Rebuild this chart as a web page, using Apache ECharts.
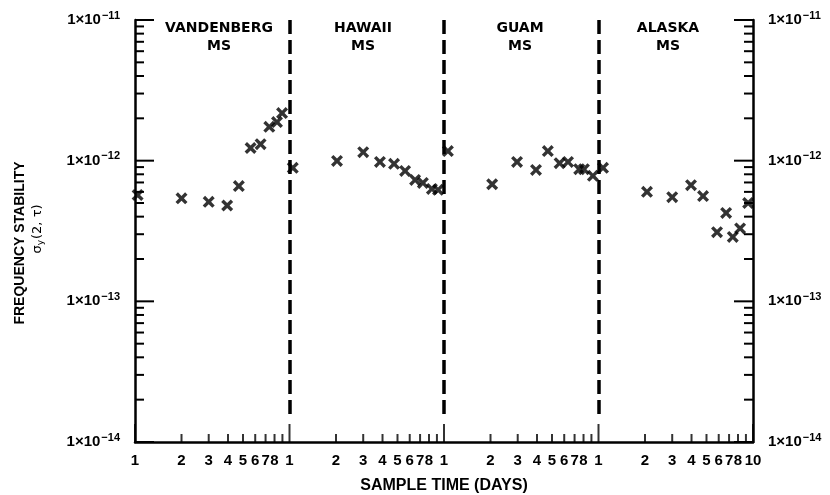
<!DOCTYPE html>
<html><head><meta charset="utf-8">
<script src="https://cdn.jsdelivr.net/npm/echarts@6/dist/echarts.min.js"></script>
<style>html,body{margin:0;padding:0;background:#fff}#c{width:830px;height:495px}</style>
</head><body><div id="c"></div>
<script>
// ---- data (sample time in days within each station's decade, sigma_y(2,tau)) ----
const stations = ['VANDENBERG', 'HAWAII', 'GUAM', 'ALASKA'];
const stationSub = 'MS';

const vandenbergDays  = [1.04, 2.0, 3.0, 3.95, 4.7, 5.6, 6.5, 7.4, 8.3, 8.95];
const vandenbergSigma = [5.7e-13, 5.4e-13, 5.1e-13, 4.8e-13, 6.6e-13, 1.23e-12, 1.31e-12, 1.74e-12, 1.88e-12, 2.18e-12];

const hawaiiDays  = [1.05, 2.03, 3.0, 3.85, 4.75, 5.6, 6.5, 7.3, 8.35, 9.15];
const hawaiiSigma = [8.9e-13, 9.95e-13, 1.15e-12, 9.8e-13, 9.5e-13, 8.45e-13, 7.3e-13, 6.95e-13, 6.3e-13, 6.2e-13];

const guamDays  = [1.06, 2.05, 2.97, 3.94, 4.7, 5.6, 6.35, 7.5, 8.05, 9.2];
const guamSigma = [1.17e-12, 6.8e-13, 9.8e-13, 8.6e-13, 1.17e-12, 9.6e-13, 9.8e-13, 8.7e-13, 8.7e-13, 7.8e-13];

const alaskaDays  = [1.07, 2.06, 3.0, 3.97, 4.75, 5.85, 6.7, 7.4, 8.25, 9.3];
const alaskaSigma = [8.9e-13, 6.0e-13, 5.5e-13, 6.7e-13, 5.6e-13, 3.1e-13, 4.25e-13, 2.87e-13, 3.3e-13, 5.0e-13];

const xLabelDigits = [1, 2, 3, 4, 5, 6, 7, 8];
const xMinorDigits = [2, 3, 4, 5, 6, 7, 8, 9];
const xLastLabel = '10';
const yExponents = [-14, -13, -12, -11];

const allDays = [vandenbergDays, hawaiiDays, guamDays, alaskaDays];
const allSigma = [vandenbergSigma, hawaiiSigma, guamSigma, alaskaSigma];

// ---- build ----
const nSeg = stations.length;
const lg = Math.log10;
const xMajor = [], xMinor = [], xLabels = [];
for (let s = 0; s <= nSeg; s++) xMajor.push(s);
for (let s = 0; s < nSeg; s++) {
  xMinorDigits.forEach(d => xMinor.push(s + lg(d)));
  xLabelDigits.forEach(d => xLabels.push(s + lg(d)));
}
xLabels.push(nSeg);
const yMin = yExponents[0], yMax = yExponents[yExponents.length - 1];
const yMinor = [];
for (let e = yMin; e < yMax; e++) xMinorDigits.forEach(d => yMinor.push(e + lg(d)));

const xFmt = v => {
  if (Math.abs(v - nSeg) < 1e-6) return xLastLabel;
  const s = Math.floor(v + 1e-9);
  return String(Math.round(Math.pow(10, v - s)));
};
const yFmt = v => '{a|1×10}{s|−' + Math.abs(Math.round(v)) + '}';
const yRich = {
  a: {fontSize: 15, fontWeight: 'bold', color: '#000', fontFamily: 'Liberation Sans'},
  s: {fontSize: 11, fontWeight: 'bold', color: '#000', fontFamily: 'Liberation Sans', padding: [0, 0, 9, 1]}
};
const BLACK = '#000';
const xSym = 'path://M0,2.4 L2.4,0 L6,3.6 L9.6,0 L12,2.4 L8.4,6 L12,9.6 L9.6,12 L6,8.4 L2.4,12 L0,9.6 L3.6,6 Z';

const series = stations.map((name, s) => ({
  type: 'scatter',
  name: name,
  symbol: xSym,
  symbolSize: 12,
  itemStyle: {color: BLACK},
  data: allDays[s].map((d, i) => [s + lg(d), lg(allSigma[s][i])]),
  z: 5
}));
series[0].markLine = {
  silent: true,
  symbol: 'none',
  label: {show: false},
  lineStyle: {color: BLACK, width: 3.5, type: [14, 6], cap: 'butt'},
  emphasis: {disabled: true},
  data: xMajor.slice(1, nSeg).map(b => [{coord: [b, yMax]}, {coord: [b, -13.82]}])
};

// x-axis tick marks as rect symbols placed through the axes
const xTickSeries = (data, len) => ({
  type: 'scatter', silent: true, clip: false, z: 4,
  symbol: 'rect', symbolSize: [2, len], symbolOffset: [0, -len / 2],
  itemStyle: {color: BLACK}, emphasis: {disabled: true},
  data: data.map(v => [v, yMin])
});
series.push(xTickSeries(xMinor, 8));
series.push(xTickSeries(xMajor, 18));

// y-axis tick marks
const tickSeries = (data, dx, dy) => ({
  type: 'custom', silent: true, clip: false, z: 4,
  data: data,
  renderItem: (params, api) => {
    const p = api.coord([api.value(0), api.value(1)]);
    return {type: 'line', shape: {x1: p[0], y1: p[1], x2: p[0] + dx, y2: p[1] + dy},
            style: {stroke: BLACK, lineWidth: 2}};
  }
});
series.push(tickSeries(yMinor.map(v => [0, v]), 9, 0));
series.push(tickSeries(yExponents.map(v => [0, v]), 19, 0));
series.push(tickSeries(yMinor.map(v => [nSeg, v]), -9, 0));
series.push(tickSeries(yExponents.map(v => [nSeg, v]), -19, 0));

const xAxisOpt = {
  type: 'value', min: 0, max: nSeg, position: 'bottom',
  axisLine: {show: true, onZero: false, lineStyle: {color: BLACK, width: 2.5}},
  axisTick: {show: false},
  axisLabel: {
    show: true, customValues: xLabels, formatter: xFmt, margin: 11,
    color: BLACK, fontSize: 15, fontWeight: 'bold', fontFamily: 'Liberation Sans', hideOverlap: false
  },
  splitLine: {show: false}
};
const makeY = (pos) => ({
  type: 'value', min: yMin, max: yMax, position: pos,
  axisLine: {show: true, onZero: false, lineStyle: {color: BLACK, width: 2.5}},
  axisTick: {show: false},
  axisLabel: {show: true, customValues: yExponents, formatter: yFmt, rich: yRich, margin: 15},
  splitLine: {show: false}
});

const labelFont = 'bold 14px "DejaVu Sans"';
const stationX = [219, 363, 520, 668];
const graphic = stations.map((n, i) => ({
  type: 'text', x: stationX[i], y: 37,
  style: {text: n + '\n' + stationSub, font: labelFont, fill: BLACK,
          textAlign: 'center', textVerticalAlign: 'middle', lineHeight: 18}
}));
graphic.push({
  type: 'text', x: 444, y: 486,
  style: {text: 'SAMPLE TIME (DAYS)', font: 'bold 16px "Liberation Sans"', fill: BLACK,
          textAlign: 'center', textVerticalAlign: 'middle'}
});
graphic.push({
  type: 'text', x: 20, y: 243, rotation: Math.PI / 2,
  style: {text: 'FREQUENCY STABILITY', font: 'bold 14px "Liberation Sans"', fill: BLACK,
          textAlign: 'center', textVerticalAlign: 'middle'}
});
graphic.push({
  type: 'text', x: 38, y: 229, rotation: Math.PI / 2,
  style: {text: '{a|σ}{b|y}{a|(2, τ)}', fill: BLACK, textAlign: 'center', textVerticalAlign: 'middle',
          rich: {a: {fontSize: 13, fontFamily: 'DejaVu Sans', fill: BLACK, color: BLACK},
                 b: {fontSize: 9, fontFamily: 'DejaVu Sans', fill: BLACK, color: BLACK, padding: [6, 1, 0, 0]}}}
});

const chart = echarts.init(document.getElementById('c'), null, {renderer: 'canvas'});
chart.setOption({
  backgroundColor: '#fff',
  animation: false,
  textStyle: {fontFamily: 'Liberation Sans', color: BLACK},
  grid: {left: 135, right: 77, top: 20, bottom: 53, outerBoundsMode: 'none', containLabel: false},
  xAxis: [xAxisOpt],
  yAxis: [makeY('left'), makeY('right')],
  series: series,
  graphic: graphic
});
</script></body></html>
